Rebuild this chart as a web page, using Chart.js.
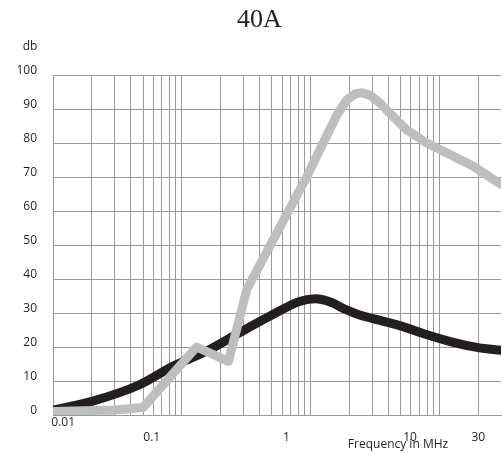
<!DOCTYPE html>
<html><head><meta charset="utf-8">
<script src="https://cdn.jsdelivr.net/npm/chart.js@4/dist/chart.umd.min.js"></script>
<style>html,body{margin:0;padding:0;background:#fff}#wrap{width:502px;height:454px}</style>
</head><body><div id="wrap"><canvas id="c" width="502" height="454"></canvas></div>
<script>
// ---- data ----
const chartTitle = '40A';
const yUnitLabel = 'db';
const xAxisTitle = 'Frequency in MHz';

const freqBlack = [0.01, 0.02, 0.047, 0.085, 0.156, 0.28, 0.5, 0.82, 1.1, 1.4, 1.9, 2.4, 3.0, 4.9, 8.0, 13, 20, 30];
const dbBlack   = [1.4, 4.0, 8.9, 14.3, 18.8, 24.2, 29.4, 33.4, 34.2, 33.3, 30.9, 29.4, 28.4, 26.3, 23.6, 21.3, 19.8, 19.0];

const freqGray = [0.01, 0.03, 0.05, 0.13, 0.23, 0.32, 0.93, 1.6, 1.9, 2.2, 2.5, 2.9, 3.44, 4.3, 5.5, 7.9, 11.3, 18.2, 30];
const dbGray   = [1.0, 1.5, 2.2, 20.0, 15.8, 37.0, 70.0, 88.3, 92.6, 94.4, 94.8, 94.0, 91.8, 88.0, 84.0, 80.1, 77.1, 73.2, 67.8];

const xTickLabels  = ['0.01', '0.1', '1', '10', '30'];
const xTickAnchors = [0.0120, 0.0584, 0.649, 5.9, 20.0];
const yTickValues  = [0, 10, 20, 30, 40, 50, 60, 70, 80, 90, 100];

// grid lines of the log paper: 1..9 x each decade
const gridFreqs = [];
[0.01, 0.1, 1, 10].forEach(d => { for (let m = 1; m <= 9; m++) { const v = +(m * d).toPrecision(3); if (v < 30) gridFreqs.push(v); } });

const SANS = '"Open Sans", "DejaVu Sans", sans-serif';
const TEXT = '#231f20';
const GRID = '#9a9a9a';

const textPlugin = {
  id: 'texts',
  afterDraw(chart) {
    const ctx = chart.ctx;
    ctx.save();
    ctx.fillStyle = TEXT;
    ctx.textBaseline = 'middle';
    ctx.textAlign = 'center';
    ctx.font = '26px "Liberation Serif", serif';
    ctx.fillText(chartTitle, 259.5, 20);
    ctx.font = '12px ' + SANS;
    ctx.fillText(yUnitLabel, 30, 47);
    ctx.fillText(xAxisTitle, 398, 445);
    ctx.restore();
  }
};

new Chart(document.getElementById('c'), {
  type: 'line',
  data: {
    datasets: [
      { label: 'gray', data: freqGray.map((f, i) => ({ x: f, y: dbGray[i] })),
        borderColor: '#bcbec0', borderWidth: 9, borderCapStyle: 'round', borderJoinStyle: 'round',
        pointRadius: 0, tension: 0, fill: false, xAxisID: 'x', yAxisID: 'y' },
      { label: 'black', data: freqBlack.map((f, i) => ({ x: f, y: dbBlack[i] })),
        borderColor: '#231f20', borderWidth: 9, borderCapStyle: 'round', borderJoinStyle: 'round',
        pointRadius: 0, cubicInterpolationMode: 'monotone', fill: false, xAxisID: 'x', yAxisID: 'y' }
    ]
  },
  options: {
    responsive: false, devicePixelRatio: 1, animation: false,
    layout: { padding: { top: 75, right: 1, left: 0, bottom: 0 } },
    plugins: { legend: { display: false }, tooltip: { enabled: false }, title: { display: false } },
    scales: {
      x: {
        type: 'logarithmic', min: 0.01, max: 30, position: 'bottom',
        ticks: { display: false },
        grid: { color: GRID, lineWidth: 1, drawTicks: false },
        border: { display: true, color: GRID },
        afterBuildTicks: s => { s.ticks = gridFreqs.map(v => ({ value: v })); },
        afterFit: s => { s.height = 0; }
      },
      x2: {
        type: 'logarithmic', min: 0.01, max: 30, position: 'bottom',
        grid: { display: false, drawTicks: false }, border: { display: false },
        ticks: {
          autoSkip: false, maxRotation: 0, minRotation: 0, padding: 0, color: TEXT,
          font: { family: SANS, size: 12, lineHeight: 1.25 },
          callback: (v, i) => i === 0 ? [xTickLabels[i], ''] : ['', xTickLabels[i]]
        },
        afterBuildTicks: s => { s.ticks = xTickAnchors.map(v => ({ value: v })); },
        afterFit: s => { s.height = 39; }
      },
      y: {
        type: 'linear', min: 0, max: 100,
        ticks: { stepSize: 10, padding: 16, labelOffset: -4, color: TEXT,
          font: { family: SANS, size: 12 } },
        afterBuildTicks: s => { s.ticks = yTickValues.map(v => ({ value: v })); },
        grid: { color: GRID, lineWidth: 1, drawTicks: false },
        border: { display: true, color: GRID },
        afterFit: s => { s.width = 53; }
      }
    }
  },
  plugins: [textPlugin]
});
</script></body></html>
